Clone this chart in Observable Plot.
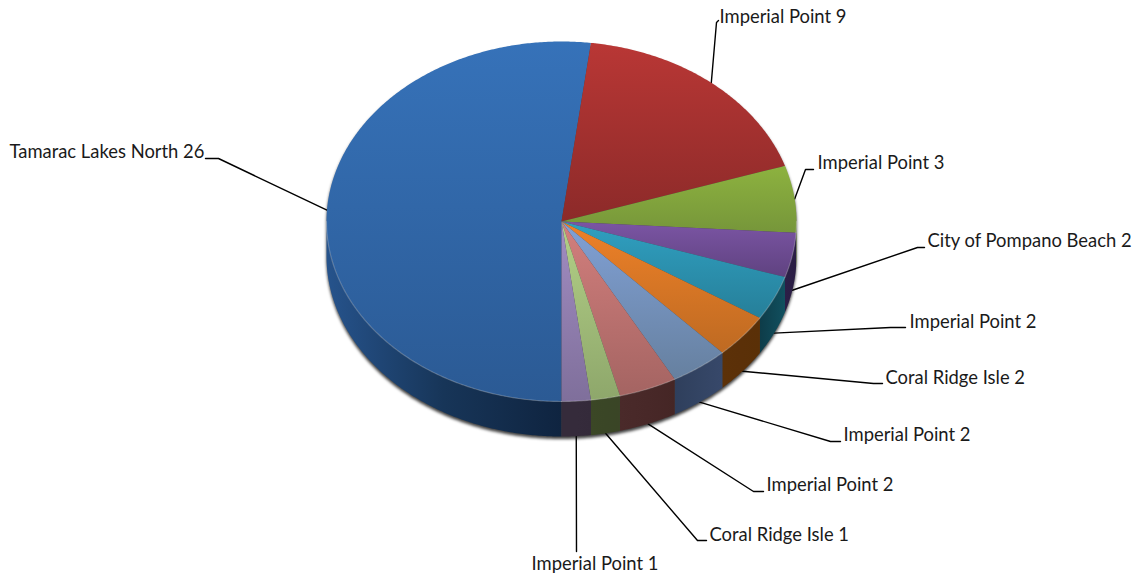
<!DOCTYPE html>
<html>
<head>
<meta charset="utf-8">
<script src="https://cdn.jsdelivr.net/npm/d3@7"></script>
<script src="https://cdn.jsdelivr.net/npm/@observablehq/plot@0.6"></script>
<style>
html,body{margin:0;padding:0;background:#fff;overflow:hidden}
svg{display:block}
</style>
</head>
<body>
<div id="chart"></div>
<script>
// Data
const names = ["Tamarac Lakes North","Imperial Point","Imperial Point","City of Pompano Beach","Imperial Point","Coral Ridge Isle","Imperial Point","Imperial Point","Coral Ridge Isle","Imperial Point"];
const values = [26,9,3,2,2,2,2,2,1,1];

// Style
const topLight = ["#3672b9","#b93735","#8db23f","#7b55a4","#30a0c1","#ee8128","#81a1d6","#d37f7d","#b3d087","#a28dc2"];
const topDark  = ["#2b5a94","#8c2a29","#76963a","#5f4280","#267f99","#be6a22","#66809f","#a46462","#8ea76b","#7f6f9b"];
const sideA    = ["#26538c","#6b2020","#3f5220","#2c1f47","#0e3c49","#5c3108","#2f3f5c","#4a2a2a","#3b4726","#352b3b"];
const sideM    = ["#173558","#621d1d","#465a23","#2b1e45","#0f4654","#5b3008","#334463","#482828","#3a4626","#352b3b"];
const sideB    = ["#0f2440","#5a1b1b","#4c6226","#2a1d44","#11505f","#5a3007","#37486a","#452625","#3a4526","#342a3a"];

// Pie geometry, in chart units
const cx = 561, cy = 221, rx = 235, ry = 180, depth = 35, startAngle = 180;

// Label layout: elbow of each leader and the text position
const elbowX  = [218,716,805,917,890,873,830,753,697,576];
const elbowY  = [158,22,169,247,327,383,441,491,540,551];
const shelfX  = [205,718,813,924,905,882,840,763,706,576];
const shelfY  = [158,20,169,247,327,383,441,491,540,551];
const labelX  = [9,719,817,927,909,885,843,766,709,531];
const labelY  = [152,17,163,241,322,378,435,485,535,564];

const total = d3.sum(values);
const cum = d3.cumsum(values);
const angles = values.map((v,i)=>({a0:startAngle+(i?cum[i-1]:0)/total*360, a1:startAngle+cum[i]/total*360, i}));
const rad = d=>d*Math.PI/180;
const px = a=>cx+rx*Math.sin(rad(a));
const py = a=>cy-ry*Math.cos(rad(a));
function arc(a0,a1,dy=0){
  const n=Math.max(2,Math.ceil(Math.abs(a1-a0)*2)),pts=[];
  for(let k=0;k<=n;k++){const a=a0+(a1-a0)*k/n;pts.push({x:px(a),y:py(a)+dy});}
  return pts;
}
const faces = angles.map(s=>[{x:cx,y:cy},...arc(s.a0,s.a1)]);
// Portion of each slice's outer wall that faces the viewer (90..270, also 450..630)
function visible(s){
  const spans=[];
  for(const off of [0,360]){
    const lo=Math.max(s.a0,90+off),hi=Math.min(s.a1,270+off);
    if(hi>lo)spans.push([lo,hi]);
  }
  return spans;
}
const walls=[],rims=[];
angles.forEach(s=>visible(s).forEach(([lo,hi])=>{
  walls.push({i:s.i,pts:[...arc(lo,hi),...arc(hi,lo,depth)]});
  rims.push({i:s.i,pts:arc(lo,hi)});
}));
const silhouette=[...arc(-90,90),...arc(90,270,depth)];
const leaders=angles.map((s,i)=>{
  const m=((s.a0+s.a1)/2)%360;
  const dy=(m>90&&m<270)?depth:0;
  return [{x:px(m),y:py(m)+dy},{x:elbowX[i],y:elbowY[i]},{x:shelfX[i],y:shelfY[i]}];
});
const labels=names.map((n,i)=>({t:`${n} ${values[i]}`,x:labelX[i],y:labelY[i]}));

function defs(){
  const d=d3.create("svg:defs");
  const grad=(id,x2,y2,stops)=>{
    const g=d.append("linearGradient").attr("id",id).attr("x1",0).attr("y1",0).attr("x2",x2).attr("y2",y2);
    stops.forEach(([o,c])=>g.append("stop").attr("offset",o).attr("stop-color",c));
  };
  values.forEach((_,i)=>{
    grad("top"+i,0,1,[[0,topLight[i]],[1,topDark[i]]]);
    grad("side"+i,1,0,[[0,sideA[i]],[.5,sideM[i]],[1,sideB[i]]]);
  });
  const f=d.append("filter").attr("id","blur").attr("x","-5%").attr("y","-5%").attr("width","110%").attr("height","110%");
  f.append("feGaussianBlur").attr("stdDeviation",1.8);
  return d.node();
}
const blurred=(index,scales,vals,dim,ctx,next)=>{
  const g=next(index,scales,vals,dim,ctx);
  g.setAttribute("filter","url(#blur)");
  return g;
};

const plot=Plot.plot({
  width:1132,height:576,margin:0,
  style:{background:"#fff"},
  x:{domain:[0,1132],range:[0,1132],axis:null},
  y:{domain:[0,576],range:[0,576],axis:null},
  marks:[
    defs,
    ...leaders.map(l=>Plot.line(l,{x:"x",y:"y",stroke:"#000",strokeWidth:1.4,curve:"linear"})),
    Plot.line(silhouette.map(p=>({x:p.x,y:p.y+2.5})),{x:"x",y:"y",fill:"#000",fillOpacity:.75,stroke:"none",render:blurred}),
    ...walls.map(w=>Plot.line(w.pts,{x:"x",y:"y",fill:`url(#side${w.i})`,stroke:"none"})),
    ...faces.map((f,i)=>Plot.line(f,{x:"x",y:"y",fill:`url(#top${i})`,stroke:"none"})),
    ...rims.map(r=>Plot.line(r.pts,{x:"x",y:"y",stroke:"#fff",strokeOpacity:.22,strokeWidth:1.2})),
    Plot.text(labels,{x:"x",y:"y",text:"t",textAnchor:"start",lineAnchor:"middle",fontSize:18.4,fontFamily:"Lato",fill:"#1a1a1a"})
  ]
});
document.getElementById("chart").append(plot);
</script>
</body>
</html>
